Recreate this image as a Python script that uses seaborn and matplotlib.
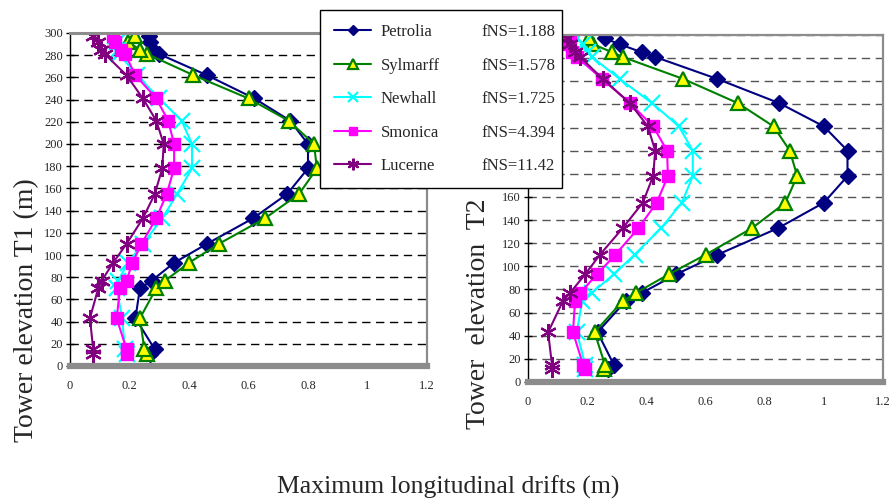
import matplotlib
matplotlib.use('Agg')
import matplotlib.pyplot as plt
import seaborn as sns

sns.set_theme(style='white')
plt.rcParams['font.family'] = ['Liberation Serif', 'DejaVu Serif']

# tower elevations (m) where drifts are reported
heights = [11, 15, 43, 70, 77, 93, 110, 133, 155, 178, 200, 221, 241,
           262, 281, 285, 292, 297]

records = ['Petrolia', 'Sylmarff', 'Newhall', 'Smonica', 'Lucerne']
fns_labels = ['fNS=1.188', 'fNS=1.578', 'fNS=1.725', 'fNS=4.394',
              'fNS=11.42']

# tower T1 drifts (m)
t1_petrolia = [0.27, 0.285, 0.22, 0.235, 0.275, 0.35, 0.46, 0.615, 0.73,
               0.80, 0.80, 0.74, 0.62, 0.46, 0.30, 0.28, 0.27, 0.265]
t1_sylmar = [0.26, 0.25, 0.235, 0.29, 0.32, 0.40, 0.50, 0.655, 0.77,
             0.83, 0.82, 0.735, 0.60, 0.415, 0.26, 0.235, 0.195, 0.22]
t1_newhall = [0.19, 0.185, 0.175, 0.157, 0.162, 0.195, 0.245, 0.31, 0.36,
              0.41, 0.41, 0.375, 0.30, 0.225, 0.165, 0.16, 0.157, 0.15]
t1_smonica = [0.19, 0.19, 0.157, 0.168, 0.19, 0.21, 0.24, 0.29, 0.325,
              0.35, 0.35, 0.33, 0.29, 0.22, 0.185, 0.17, 0.15, 0.145]
t1_lucerne = [0.078, 0.078, 0.067, 0.095, 0.107, 0.145, 0.19, 0.245, 0.285,
              0.31, 0.315, 0.29, 0.245, 0.19, 0.117, 0.105, 0.095, 0.078]

# tower T2 drifts (m)
t2_petrolia = [0.27, 0.29, 0.235, 0.33, 0.385, 0.50, 0.64, 0.845, 1.0,
               1.08, 1.08, 1.0, 0.85, 0.64, 0.43, 0.385, 0.31, 0.26]
t2_sylmar = [0.257, 0.26, 0.225, 0.32, 0.365, 0.475, 0.60, 0.757, 0.87,
             0.91, 0.885, 0.83, 0.71, 0.525, 0.32, 0.285, 0.22, 0.205]
t2_newhall = [0.193, 0.193, 0.165, 0.183, 0.215, 0.29, 0.36, 0.45, 0.52,
              0.557, 0.557, 0.51, 0.42, 0.31, 0.216, 0.203, 0.186, 0.165]
t2_smonica = [0.193, 0.186, 0.152, 0.159, 0.176, 0.233, 0.295, 0.373,
              0.435, 0.473, 0.47, 0.423, 0.345, 0.25, 0.165, 0.148, 0.135,
              0.142]
t2_lucerne = [0.081, 0.081, 0.068, 0.118, 0.142, 0.193, 0.243, 0.32, 0.388,
              0.423, 0.43, 0.405, 0.345, 0.253, 0.176, 0.159, 0.142, 0.132]

x_ticks = [0, 0.2, 0.4, 0.6, 0.8, 1.0, 1.2]
x_tick_labels = ['0', '0.2', '0.4', '0.6', '0.8', '1', '1.2']
y_ticks = list(range(0, 301, 20))
y_tick_labels = [str(v) for v in y_ticks]
# on T2 the labels from 180 up sit behind the legend box
y_tick_labels_t2 = [str(v) if v < 180 else '' for v in y_ticks]

styles = {
    'Petrolia': dict(color='#000080', marker='D', markersize=8,
                     markerfacecolor='#000080', markeredgecolor='#000080',
                     markeredgewidth=1),
    'Sylmarff': dict(color='#008000', marker='^', markersize=10,
                     markerfacecolor='#ffff00', markeredgecolor='#008000',
                     markeredgewidth=1.6),
    'Newhall': dict(color='#00ffff', marker='x', markersize=11,
                    markerfacecolor='#00ffff', markeredgecolor='#00ffff',
                    markeredgewidth=1.6),
    'Smonica': dict(color='#ff00ff', marker='s', markersize=9,
                    markerfacecolor='#ff00ff', markeredgecolor='#ff00ff',
                    markeredgewidth=1),
    'Lucerne': dict(color='#800080', marker=(6, 2, 0), markersize=12,
                    markerfacecolor='#800080', markeredgecolor='#800080',
                    markeredgewidth=1.6),
}


def draw_panel(ax, series, grid_color, top_lw, ylabels):
    for name, vals in zip(records, series):
        sns.lineplot(x=vals, y=heights, sort=False, estimator=None,
                     linewidth=1.5, ax=ax, label=name, legend=False,
                     **styles[name])
    ax.set_xlim(0, 1.2)
    ax.set_ylim(0, 300)
    ax.set_xticks(x_ticks)
    ax.set_xticklabels(x_tick_labels)
    ax.set_yticks(y_ticks)
    ax.set_yticklabels(ylabels)
    ax.set_xlabel('')
    ax.set_ylabel('')
    ax.yaxis.grid(True, linestyle=(0, (6, 4)), color=grid_color,
                  linewidth=1)
    ax.xaxis.grid(False)
    for side in ['top', 'right']:
        ax.spines[side].set_color('#8c8c8c')
        ax.spines[side].set_linewidth(top_lw if side == 'top' else 1.6)
    ax.spines['left'].set_color('black')
    ax.spines['left'].set_linewidth(1)
    ax.spines['bottom'].set_color('#8c8c8c')
    ax.spines['bottom'].set_linewidth(4.5)
    ax.tick_params(axis='x', direction='inout', length=8, width=7,
                   color='#8c8c8c', pad=6, labelsize=9)
    ax.tick_params(axis='y', direction='inout', length=6, width=1,
                   color='black', pad=2, labelsize=9, left=True)


fig = plt.figure(figsize=(8.96, 4.99), dpi=100)
ax1 = fig.add_axes([70 / 896, 133 / 499, 357 / 896, 333 / 499])
ax2 = fig.add_axes([528 / 896, 117 / 499, 355 / 896, 347 / 499])

draw_panel(ax1, [t1_petrolia, t1_sylmar, t1_newhall, t1_smonica,
                 t1_lucerne], 'black', 2.2, y_tick_labels)
draw_panel(ax2, [t2_petrolia, t2_sylmar, t2_newhall, t2_smonica,
                 t2_lucerne], '#555555', 1.6, y_tick_labels_t2)

handles, labels = ax1.get_legend_handles_labels()
leg = fig.legend(handles, labels, loc='upper left',
                 bbox_to_anchor=(320 / 896, 1 - 187 / 499, 242 / 896,
                                 177 / 499),
                 bbox_transform=fig.transFigure,
                 mode='expand', borderaxespad=0, fontsize=12,
                 labelspacing=1.05, borderpad=0.85, handlelength=2.2,
                 handletextpad=0.6, numpoints=1, markerscale=0.7,
                 fancybox=False, shadow=False, framealpha=1,
                 edgecolor='black')
leg.get_frame().set_linewidth(1)

fig.canvas.draw()
renderer = fig.canvas.get_renderer()
frame = leg.get_frame().get_window_extent(renderer)
inv = fig.transFigure.inverted()
for t, txt in zip(leg.get_texts(), fns_labels):
    bb = t.get_window_extent(renderer)
    fx, fy = inv.transform((frame.x1 - 7, (bb.y0 + bb.y1) / 2))
    fig.text(fx, fy, txt, ha='right', va='center', fontsize=12,
             zorder=6)

fig.text(27 / 896, 1 - 310 / 499, 'Tower elevation T1 (m)', rotation=90,
         ha='center', va='center', fontsize=20)
fig.text(478 / 896, 1 - 314 / 499, 'Tower  elevation  T2', rotation=90,
         ha='center', va='center', fontsize=20)
fig.text(448 / 896, 1 - 487 / 499, 'Maximum longitudinal drifts (m)',
         ha='center', va='center', fontsize=18.5)

fig.savefig('out.png', dpi=100)
